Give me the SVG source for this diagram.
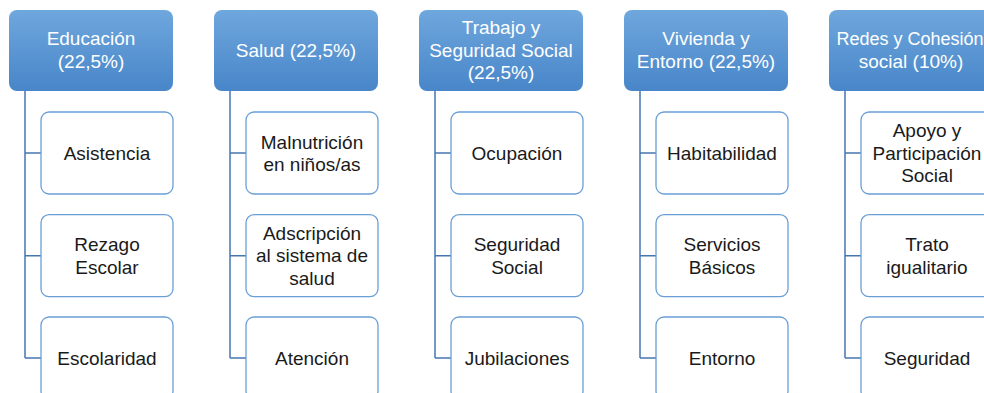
<svg xmlns="http://www.w3.org/2000/svg" width="984" height="393" viewBox="0 0 984 393">
<defs>
<linearGradient id="hg" x1="0" y1="0" x2="0" y2="1">
<stop offset="0" stop-color="#6fa7dd"/>
<stop offset="1" stop-color="#4886c9"/>
</linearGradient>
<style>
.h{fill:url(#hg);stroke:none}
.c{fill:#ffffff;stroke:#6a9fd6;stroke-width:1.3}
.ln{fill:none;stroke:#4677b0;stroke-width:1.5}
text{font-family:"Liberation Sans",Arial,sans-serif;font-size:19px;text-anchor:middle}
.ht{fill:#ffffff}
.ct{fill:#1a1a1a}
</style>
</defs>
<rect width="984" height="393" fill="#ffffff"/>
<g id="connectors">
<path class="ln" d="M25 91V358M25 153H41M25 255.7H41M25 358H41"/>
<path class="ln" d="M230 91V358M230 153H246M230 255.7H246M230 358H246"/>
<path class="ln" d="M435 91V358M435 153H451M435 255.7H451M435 358H451"/>
<path class="ln" d="M640 91V358M640 153H656M640 255.7H656M640 358H656"/>
<path class="ln" d="M845 91V358M845 153H861M845 255.7H861M845 358H861"/>
</g>
<g id="h1"><rect class="h" x="9" y="10" width="164" height="81" rx="8"/><text class="ht" x="91" y="45">Educación</text><text class="ht" x="91" y="67.5">(22,5%)</text></g>
<g id="h2"><rect class="h" x="214" y="10" width="164" height="81" rx="8"/><text class="ht" x="296" y="57">Salud (22,5%)</text></g>
<g id="h3"><rect class="h" x="419" y="10" width="164" height="81" rx="8"/><text class="ht" x="501" y="34">Trabajo y</text><text class="ht" x="501" y="56.5">Seguridad Social</text><text class="ht" x="501" y="79">(22,5%)</text></g>
<g id="h4"><rect class="h" x="624" y="10" width="164" height="81" rx="8"/><text class="ht" x="706" y="45">Vivienda y</text><text class="ht" x="706" y="67.5">Entorno (22,5%)</text></g>
<g id="h5"><rect class="h" x="829" y="10" width="164" height="81" rx="8"/><text class="ht" x="910" y="45" style="font-size:18px">Redes y Cohesión</text><text class="ht" x="911" y="67.5">social (10%)</text></g>

<g id="c11"><rect class="c" x="41" y="112" width="132" height="82" rx="8"/><text class="ct" x="107" y="159.5">Asistencia</text></g>
<g id="c12"><rect class="c" x="41" y="214.7" width="132" height="82" rx="8"/><text class="ct" x="107" y="251">Rezago</text><text class="ct" x="107" y="273.5">Escolar</text></g>
<g id="c13"><rect class="c" x="41" y="317" width="132" height="82" rx="8"/><text class="ct" x="107" y="364.5">Escolaridad</text></g>

<g id="c21"><rect class="c" x="246" y="112" width="132" height="82" rx="8"/><text class="ct" x="312" y="148.5">Malnutrición</text><text class="ct" x="312" y="171">en niños/as</text></g>
<g id="c22"><rect class="c" x="246" y="214.7" width="132" height="82" rx="8"/><text class="ct" x="312" y="239.5">Adscripción</text><text class="ct" x="312" y="262">al sistema de</text><text class="ct" x="312" y="284.5">salud</text></g>
<g id="c23"><rect class="c" x="246" y="317" width="132" height="82" rx="8"/><text class="ct" x="312" y="364.5">Atención</text></g>

<g id="c31"><rect class="c" x="451" y="112" width="132" height="82" rx="8"/><text class="ct" x="517" y="159.5">Ocupación</text></g>
<g id="c32"><rect class="c" x="451" y="214.7" width="132" height="82" rx="8"/><text class="ct" x="517" y="251">Seguridad</text><text class="ct" x="517" y="273.5">Social</text></g>
<g id="c33"><rect class="c" x="451" y="317" width="132" height="82" rx="8"/><text class="ct" x="517" y="364.5">Jubilaciones</text></g>

<g id="c41"><rect class="c" x="656" y="112" width="132" height="82" rx="8"/><text class="ct" x="722" y="159.5">Habitabilidad</text></g>
<g id="c42"><rect class="c" x="656" y="214.7" width="132" height="82" rx="8"/><text class="ct" x="722" y="251">Servicios</text><text class="ct" x="722" y="273.5">Básicos</text></g>
<g id="c43"><rect class="c" x="656" y="317" width="132" height="82" rx="8"/><text class="ct" x="722" y="364.5">Entorno</text></g>

<g id="c51"><rect class="c" x="861" y="112" width="132" height="82" rx="8"/><text class="ct" x="927" y="137">Apoyo y</text><text class="ct" x="927" y="159.5">Participación</text><text class="ct" x="927" y="182">Social</text></g>
<g id="c52"><rect class="c" x="861" y="214.7" width="132" height="82" rx="8"/><text class="ct" x="927" y="251">Trato</text><text class="ct" x="927" y="273.5">igualitario</text></g>
<g id="c53"><rect class="c" x="861" y="317" width="132" height="82" rx="8"/><text class="ct" x="927" y="364.5">Seguridad</text></g>
</svg>
